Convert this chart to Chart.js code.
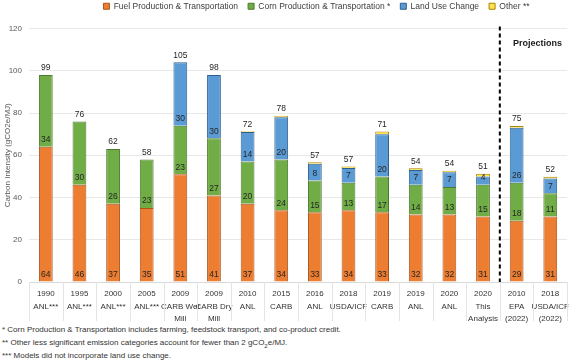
<!DOCTYPE html>
<html>
<head>
<meta charset="utf-8">
<script src="https://cdn.jsdelivr.net/npm/chart.js@4.4.1/dist/chart.umd.min.js"></script>
<style>
  html, body { margin: 0; padding: 0; background: #ffffff; }
  #wrap { position: relative; width: 575px; height: 362px; overflow: hidden; }
  #box { position: absolute; left: 0; top: 0; width: 575px; height: 324px; }
  .note { position: absolute; left: 2px; font-family: "Liberation Sans", Arial, sans-serif; font-size: 8px; color: #333333; white-space: nowrap; line-height: 10px; }
</style>
</head>
<body>
<div id="wrap">
  <div id="box"><canvas id="c" width="575" height="324"></canvas></div>
  <div class="note" style="top:325px">* Corn Production &amp; Transportation includes farming, feedstock transport, and co-product credit.</div>
  <div class="note" style="top:338px">** Other less significant emission categories account for fewer than 2 gCO<sub style="font-size:6px;line-height:0">2</sub>e/MJ.</div>
  <div class="note" style="top:351px">*** Models did not incorporate land use change.</div>
</div>
<script>
// ---- data ----
const years   = ["1990","1995","2000","2005","2009","2009","2010","2015","2016","2018","2019","2019","2020","2020","2010","2018"];
const sources = [["ANL***"],["ANL***"],["ANL***"],["ANL***"],["CARB Wet","Mill"],["CARB Dry","Mill"],["ANL"],["CARB"],["ANL"],["USDA/ICF"],["CARB"],["ANL"],["ANL"],["This","Analysis"],["EPA","(2022)"],["USDA/ICF","(2022)"]];
const fuelProduction = [64, 46, 37, 35, 51, 41, 37, 34, 33, 34, 33, 32, 32, 31, 29, 31];
const cornProduction = [34, 30, 26, 23, 23, 27, 20, 24, 15, 13, 17, 14, 13, 15, 18, 11];
const landUseChange  = [0, 0, 0, 0, 30, 30, 14, 20, 8, 7, 20, 7, 7, 4, 26, 7];
const otherEmissions = [0, 0, 0, 0, 0, 0, 0.4, 0.7, 0.7, 0.7, 1.2, 0.8, 0.7, 1.3, 0.8, 0.8];
const totals         = [99, 76, 62, 58, 105, 98, 72, 78, 57, 57, 71, 54, 54, 51, 75, 52];
const yTicks = [0, 20, 40, 60, 80, 100, 120];
const projectionStartIndex = 14;

const labels = years.map((y, i) => [y].concat(sources[i]));
const FONT = '"Liberation Sans", Arial, sans-serif';

const legendSpacing = {
  id: 'legendSpacing',
  beforeInit(chart) {
    const origFit = chart.legend.fit;
    chart.legend.fit = function () {
      origFit.bind(chart.legend)();
      this.height += 8;
    };
  },
  afterLayout(chart) {
    chart.legend.left += 30;
    chart.legend.right += 30;
  }
};

const segmentLabels = {
  id: 'segmentLabels',
  afterDatasetsDraw(chart) {
    const ctx = chart.ctx;
    const xs = chart.scales.x;
    const ys = chart.scales.y;
    const ca = chart.chartArea;
    ctx.save();
    // category separators in the label band
    const n = labels.length;
    const step = xs.getPixelForValue(1) - xs.getPixelForValue(0);
    ctx.strokeStyle = '#e4e4e4';
    ctx.lineWidth = 1;
    for (let i = 0; i <= n; i++) {
      const x = Math.round(xs.getPixelForValue(0) - step / 2 + i * step) + 0.5;
      ctx.beginPath();
      ctx.moveTo(x, ca.bottom);
      ctx.lineTo(x, ca.bottom + 39);
      ctx.stroke();
    }
    ctx.font = '8.5px ' + FONT;
    ctx.fillStyle = '#262626';
    ctx.textAlign = 'center';
    ctx.textBaseline = 'middle';
    for (let d = 0; d < 3; d++) {
      const meta = chart.getDatasetMeta(d);
      const vals = chart.data.datasets[d].data;
      meta.data.forEach((bar, i) => {
        if (vals[i] > 0) ctx.fillText(String(vals[i]), bar.x, bar.base - 7);
      });
    }
    // totals above the top of the stack
    const topMeta = chart.getDatasetMeta(3);
    topMeta.data.forEach((bar, i) => {
      const sum = fuelProduction[i] + cornProduction[i] + landUseChange[i] + otherEmissions[i];
      ctx.fillText(String(totals[i]), bar.x, ys.getPixelForValue(sum) - 7);
    });
    // dashed projection divider
    const xDiv = (xs.getPixelForValue(projectionStartIndex - 1) + xs.getPixelForValue(projectionStartIndex)) / 2;
    ctx.strokeStyle = '#000000';
    ctx.lineWidth = 2;
    ctx.setLineDash([4, 3]);
    ctx.beginPath();
    ctx.moveTo(xDiv, ca.top - 2);
    ctx.lineTo(xDiv, ca.bottom);
    ctx.stroke();
    ctx.setLineDash([]);
    // projections label
    ctx.font = 'bold 9px ' + FONT;
    ctx.fillStyle = '#1a1a1a';
    ctx.fillText('Projections', (xDiv + chart.width) / 2, ys.getPixelForValue(113));
    ctx.restore();
  }
};

new Chart(document.getElementById('c'), {
  type: 'bar',
  data: {
    labels: labels,
    datasets: [
      { label: 'Fuel Production & Transportation', data: fuelProduction, backgroundColor: '#ED7D31', borderColor: '#A9561E', borderWidth: 1 },
      { label: 'Corn Production & Transportation *', data: cornProduction, backgroundColor: '#70AD47', borderColor: '#4C7A2E', borderWidth: 1 },
      { label: 'Land Use Change', data: landUseChange, backgroundColor: '#5B9BD5', borderColor: '#2F5F8F', borderWidth: 1 },
      { label: 'Other **', data: otherEmissions, backgroundColor: '#FFE34D', borderColor: '#A88400', borderWidth: 1 }
    ]
  },
  options: {
    responsive: false,
    animation: false,
    datasets: { bar: { categoryPercentage: 1, barPercentage: 0.41 } },
    layout: { padding: { left: 0, right: 2, top: -8, bottom: 0 } },
    plugins: {
      legend: {
        position: 'top',
        labels: { boxWidth: 6, boxHeight: 6, padding: 10, color: '#404040', font: { family: FONT, size: 8.5 } }
      },
      tooltip: { enabled: false }
    },
    scales: {
      x: {
        stacked: true,
        afterFit: (s) => { s.height = 42; },
        grid: { display: false, drawTicks: false },
        border: { color: '#d9d9d9' },
        ticks: { padding: 6, color: '#333333', maxRotation: 0, autoSkip: false, font: { family: FONT, size: 8, lineHeight: 1.55 } }
      },
      y: {
        stacked: true,
        min: 0, max: 120,
        afterBuildTicks: (s) => { s.ticks = yTicks.map(v => ({ value: v })); },
        afterFit: (s) => { s.width = 29; },
        grid: { color: '#e8e8e8', drawTicks: false },
        border: { display: false },
        ticks: { padding: 7, color: '#595959', font: { family: FONT, size: 8 } },
        title: { display: true, text: 'Carbon Intensity (gCO2e/MJ)', color: '#595959', padding: { top: 3, bottom: 0 }, font: { family: FONT, size: 8 } }
      }
    }
  },
  plugins: [legendSpacing, segmentLabels]
});
</script>
</body>
</html>
